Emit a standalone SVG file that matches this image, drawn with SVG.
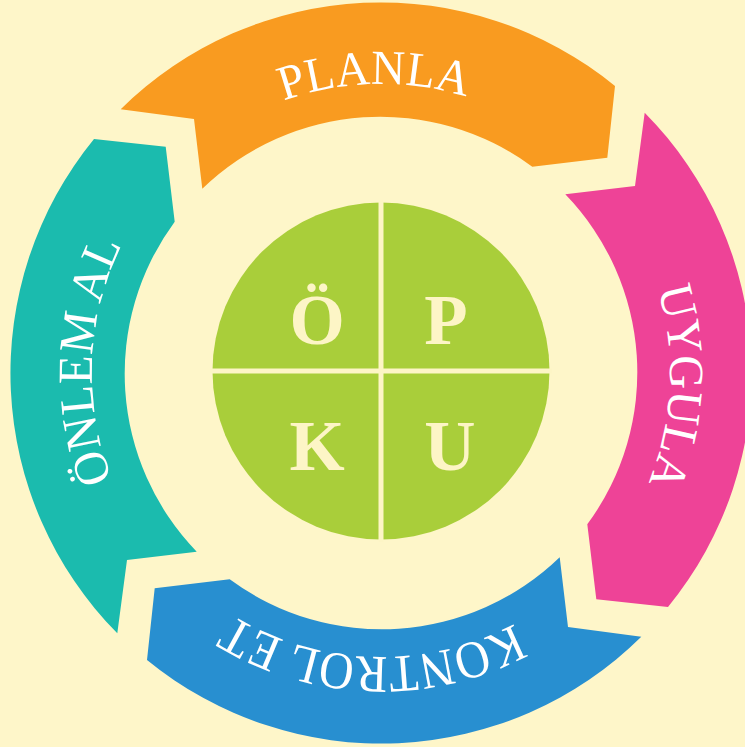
<svg xmlns="http://www.w3.org/2000/svg" width="745" height="747" viewBox="0 0 745 747">
  <defs>
    <style>
      .ring-text { font-family: "Liberation Serif", "Times New Roman", serif; font-size: 49px; fill: #FFFFFF; text-anchor: middle; }
      .core-letter { font-family: "Liberation Serif", "Times New Roman", serif; font-weight: bold; font-size: 71px; fill: #FDF5C6; text-anchor: middle; }
    </style>
    <path id="seg" d="M 120.7 109.3 A 370 370 0 0 1 615 86 L 607.3 157.7 L 532.3 166.7 A 256 256 0 0 0 202.3 188.7 L 194 119 Z"/>
    <path id="arc289" d="M 92 373 A 289 289 0 0 1 670 373"/>
    <path id="arc284" d="M 97 373 A 284 284 0 0 1 665 373"/>
  </defs>
  <rect width="745" height="747" fill="#FEF6C9"/>
  <g id="connectors"/>
  <g id="planla">
    <use href="#seg" fill="#F99B20"/>
    <text class="ring-text"><textPath href="#arc289" startOffset="49.3%" textLength="186" lengthAdjust="spacingAndGlyphs">PLANLA</textPath></text>
  </g>
  <g id="uygula" transform="rotate(90 381 373)">
    <use href="#seg" fill="#EE4397"/>
    <text class="ring-text"><textPath href="#arc289" startOffset="51.5%" textLength="198" lengthAdjust="spacingAndGlyphs">UYGULA</textPath></text>
  </g>
  <g id="kontrol-et" transform="rotate(180 381 373)">
    <use href="#seg" fill="#288FD0"/>
    <text class="ring-text" style="font-size:53px"><textPath href="#arc284" startOffset="51%" textLength="296" lengthAdjust="spacingAndGlyphs">KONTROL ET</textPath></text>
  </g>
  <g id="onlem-al" transform="rotate(270 381 373)">
    <use href="#seg" fill="#1BBBAE"/>
    <text class="ring-text"><textPath href="#arc289" startOffset="51.3%" textLength="242" lengthAdjust="spacingAndGlyphs">ÖNLEM AL</textPath></text>
  </g>
  <g id="core">
    <circle cx="381" cy="371" r="168.5" fill="#A9CE3A"/>
    <line x1="381" y1="200" x2="381" y2="542" stroke="#FDF5C6" stroke-width="5"/>
    <line x1="210" y1="371" x2="552" y2="371" stroke="#FDF5C6" stroke-width="5"/>
    <text class="core-letter" x="317" y="344">Ö</text>
    <text class="core-letter" x="446" y="344">P</text>
    <text class="core-letter" x="317" y="470">K</text>
    <text class="core-letter" x="450" y="470">U</text>
  </g>
</svg>
